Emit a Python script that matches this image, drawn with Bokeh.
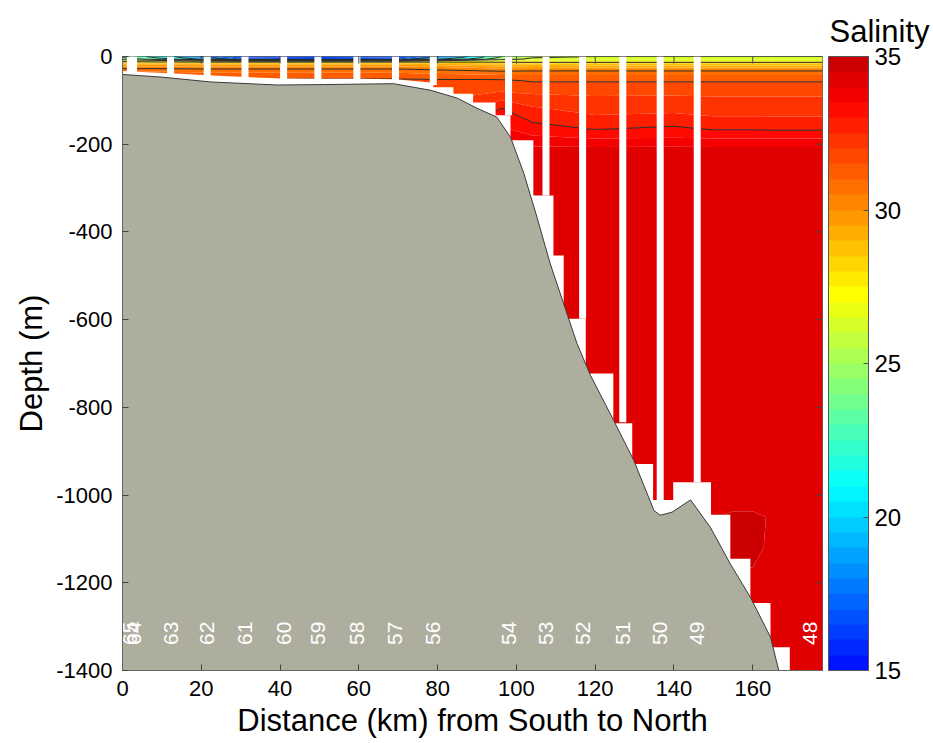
import numpy as np
from bokeh.plotting import figure
from bokeh.models import ColorBar, LinearColorMapper, FixedTicker, Title, Range1d
from bokeh.embed import file_html
from bokeh.resources import INLINE
from bokeh.core.properties import value

# ---------------- data ----------------
stations = ["65", "64", "63", "62", "61", "60", "59", "58", "57", "56",
            "54", "53", "52", "51", "50", "49", "48"]
station_km = [2.0, 2.8, 12.2, 21.5, 31.1, 40.9, 49.6, 59.5, 69.3, 78.9,
              98.0, 107.5, 116.8, 127.0, 136.5, 145.9, 174.6]
cast_depth = [-38, -38, -40, -45, -49, -52, -53, -53, -54, -65,
              -134, -317, -598, -834, -1028, -971, 0]

# salinity grid: columns at sal_x (km), rows at sal_depth (m)
sal_x = [0, 10, 20, 30, 50, 70, 80, 88, 96, 104, 120, 140, 150, 155, 160, 165, 177.7]
sal_depth = [0, 3, 6, 9, 13, 18, 25, 32, 42, 55, 80, 120, 165, 185, 210, 400,
             1030, 1050, 1120, 1200, 1400]
sal_profiles = [
    [23.5, 24.1, 25.1, 27.0, 28.5, 29.4, 30.25, 30.9, 31.4, 31.6, 32.0, 32.4, 33.0, 33.45, 34.1, 34.3, 34.3, 34.3, 34.3, 34.3, 34.3],
    [21.0, 21.6, 22.9, 26.0, 28.4, 29.4, 30.25, 30.9, 31.4, 31.6, 32.0, 32.4, 33.0, 33.45, 34.1, 34.3, 34.3, 34.3, 34.3, 34.3, 34.3],
    [17.9, 18.5, 19.75, 24.75, 28.25, 29.4, 30.25, 30.75, 31.25, 31.6, 32.0, 32.4, 33.0, 33.45, 34.1, 34.3, 34.3, 34.3, 34.3, 34.3, 34.3],
    [16.4, 16.6, 17.25, 24.1, 28.25, 29.4, 30.25, 30.75, 31.25, 31.6, 32.0, 32.4, 33.0, 33.45, 34.1, 34.3, 34.3, 34.3, 34.3, 34.3, 34.3],
    [16.1, 16.4, 17.0, 24.1, 28.25, 29.4, 30.25, 30.75, 31.25, 31.6, 32.0, 32.4, 33.0, 33.45, 34.1, 34.3, 34.3, 34.3, 34.3, 34.3, 34.3],
    [16.4, 16.6, 17.25, 24.4, 28.25, 29.4, 30.25, 30.75, 31.25, 31.6, 32.0, 32.4, 33.0, 33.45, 34.1, 34.3, 34.3, 34.3, 34.3, 34.3, 34.3],
    [17.9, 18.5, 19.75, 25.4, 28.25, 29.25, 30.1, 30.6, 31.1, 31.6, 32.0, 32.4, 33.0, 33.45, 34.1, 34.3, 34.3, 34.3, 34.3, 34.3, 34.3],
    [20.1, 20.75, 22.25, 26.6, 28.1, 29.1, 30.0, 30.5, 31.1, 31.6, 31.9, 32.3, 33.0, 33.45, 34.1, 34.3, 34.3, 34.3, 34.3, 34.3, 34.3],
    [23.9, 24.4, 25.4, 26.9, 28.0, 29.0, 29.75, 30.4, 31.0, 31.6, 32.0, 33.05, 33.6, 33.9, 34.2, 34.3, 34.3, 34.3, 34.3, 34.3, 34.3],
    [25.75, 26.0, 26.25, 26.75, 27.95, 28.9, 29.6, 30.45, 31.0, 31.45, 31.9, 32.6, 33.2, 33.6, 34.1, 34.3, 34.3, 34.3, 34.3, 34.3, 34.3],
    [26.0, 26.1, 26.4, 26.6, 27.95, 28.75, 29.5, 30.45, 31.0, 31.45, 31.9, 32.3, 32.97, 33.45, 34.1, 34.3, 34.3, 34.3, 34.3, 34.3, 34.3],
    [26.0, 26.1, 26.4, 26.6, 27.95, 28.75, 29.5, 30.45, 31.0, 31.45, 31.9, 32.35, 33.1, 33.5, 34.1, 34.3, 34.3, 34.3, 34.3, 34.3, 34.3],
    [26.0, 26.1, 26.4, 26.6, 27.95, 28.75, 29.5, 30.45, 31.0, 31.45, 31.9, 32.25, 32.95, 33.45, 34.1, 34.3, 34.3, 34.3, 34.3, 34.3, 34.3],
    [26.0, 26.1, 26.4, 26.6, 27.95, 28.75, 29.5, 30.45, 31.0, 31.45, 31.9, 32.25, 32.95, 33.45, 34.1, 34.3, 34.3, 34.9, 34.9, 34.3, 34.3],
    [26.0, 26.1, 26.4, 26.6, 27.95, 28.75, 29.5, 30.45, 31.0, 31.45, 31.9, 32.25, 32.95, 33.45, 34.1, 34.3, 34.3, 34.9, 34.75, 34.3, 34.3],
    [26.0, 26.1, 26.4, 26.6, 27.95, 28.75, 29.5, 30.45, 31.0, 31.45, 31.9, 32.25, 32.92, 33.45, 34.1, 34.3, 34.3, 34.3, 34.3, 34.3, 34.3],
    [26.0, 26.1, 26.4, 26.6, 27.95, 28.75, 29.5, 30.45, 31.0, 31.45, 31.9, 32.25, 32.92, 33.45, 34.1, 34.3, 34.3, 34.3, 34.3, 34.3, 34.3],
]
line_levels = [18, 20, 22, 24, 26, 28, 30.5, 31.5, 33]

# lower limit of the gridded data (white gap above the sea floor)
data_bottom_x = [0, 2.0, 12.2, 21.5, 31.1, 40.9, 49.6, 59.5, 69.3, 78.9, 78.9, 84, 84, 89, 89,
                 94.7, 94.7, 98.5, 98.5, 104.3, 104.3, 109.4, 109.4, 112, 112, 117.6, 117.6,
                 124.6, 124.6, 129.4, 129.4, 134.7, 134.7, 139.8, 139.8, 149.4, 149.4,
                 154.3, 154.3, 159.4, 159.4, 164.5, 164.5, 169.4, 169.4, 177.7]
data_bottom_z = [-33, -34, -38, -43, -47, -50, -51, -51, -52, -60, -70, -70, -85, -85, -105,
                 -105, -134, -134, -191, -191, -317, -317, -454, -454, -598, -598, -723,
                 -723, -836, -836, -929, -929, -1011, -1011, -971, -971, -1045, -1045,
                 -1145, -1145, -1246, -1246, -1347, -1347, -1400, -1400]

# sea floor
bathy_x = [0, 10, 22.3, 39.3, 51, 68.8, 78.2, 85, 90, 95, 98.5, 101.9, 105.2, 108.6, 112,
           115.4, 118.8, 124.7, 129.8, 134.9, 136.5, 139.5, 144.2, 149.2, 154.3, 159.4,
           164.5, 166.6]
bathy_z = [-41, -47, -58, -65, -64, -62, -77, -95, -118, -138, -184, -267, -366, -473, -564,
           -655, -727, -830, -921, -1035, -1046, -1039, -1011, -1073, -1157, -1233,
           -1324, -1400]

x_ticks = [0, 20, 40, 60, 80, 100, 120, 140, 160]
y_ticks = [0, -200, -400, -600, -800, -1000, -1200, -1400]
cbar_ticks = [15, 20, 25, 30, 35]
sal_low, sal_high, sal_step = 15, 35, 0.5

# ---------------- style ----------------
FONT = "Liberation Sans"
X_MAX = 177.7
Y_MIN = -1400
LABEL_DEPTH = -1315


def jet(v):
    r = min(max(1.5 - abs(4 * v - 3), 0), 1)
    g = min(max(1.5 - abs(4 * v - 2), 0), 1)
    b = min(max(1.5 - abs(4 * v - 1), 0), 1)
    return "#%02x%02x%02x" % (round(r * 255), round(g * 255), round(b * 255))


nb = int(round((sal_high - sal_low) / sal_step))
levels = [sal_low + i * sal_step for i in range(nb + 1)]
palette = [jet(0.135 + 0.8 * (i + 0.5) / nb) for i in range(nb)]

p = figure(frame_width=700, frame_height=614,
           x_range=Range1d(0, X_MAX), y_range=Range1d(Y_MIN, 0),
           output_backend="svg", toolbar_location=None,
           min_border_left=122, min_border_right=111, min_border_top=56, min_border_bottom=70)
p.background_fill_color = "white"
p.grid.visible = False
p.outline_line_color = "#666666"

xs = np.array(sal_x, dtype=float)
ys = -np.array(sal_depth, dtype=float)[::-1]
Z = np.array(sal_profiles, dtype=float).T[::-1, :]

p.contour(xs, ys, Z, levels=levels, fill_color=palette, line_color=None)
p.contour(xs, ys, Z, levels=line_levels, fill_color=None, line_color="#2b2b2b", line_width=1)

# white area below data coverage
p.patch(data_bottom_x + [X_MAX, 0], data_bottom_z + [Y_MIN, Y_MIN],
        fill_color="white", line_color=None)
# sea floor
p.patch(bathy_x + [0], bathy_z + [Y_MIN], fill_color="#aeae9f", line_color=None)
p.line(bathy_x, bathy_z, line_color="#3a3a3a", line_width=1)

# station casts
p.segment(x0=station_km, y0=[0] * len(station_km), x1=station_km, y1=cast_depth,
          line_color="white", line_width=7, line_cap="butt")
p.text(x=station_km, y=[LABEL_DEPTH] * len(station_km), text=stations, angle=np.pi / 2,
       text_color="white", text_font_size="21px", text_align="center",
       text_baseline="middle", text_font=value(FONT))

# inward ticks on the top and right edges (box axes)
p.scatter(x=x_ticks, y=[0] * len(x_ticks), marker="dash", angle=np.pi / 2, size=14,
          line_color="#444444", line_width=1)
p.scatter(x=[X_MAX] * len(y_ticks), y=y_ticks, marker="dash", size=14,
          line_color="#444444", line_width=1)

# axes
for ax in (p.xaxis[0], p.yaxis[0]):
    ax.major_label_text_font = FONT
    ax.major_label_text_font_size = "22px"
    ax.major_label_text_color = "black"
    ax.axis_label_text_font = FONT
    ax.axis_label_text_font_size = "31px"
    ax.axis_label_text_font_style = "normal"
    ax.axis_label_text_color = "black"
    ax.major_tick_in = 6
    ax.major_tick_out = 0
    ax.minor_tick_line_color = None
    ax.axis_line_color = "#666666"
    ax.major_tick_line_color = "#444444"
    ax.axis_label_standoff = 4

p.xaxis.major_label_standoff = 10
p.yaxis.major_label_standoff = 10
p.xaxis.ticker = FixedTicker(ticks=x_ticks)
p.yaxis.ticker = FixedTicker(ticks=y_ticks)
p.yaxis.major_label_overrides = {t: str(t) for t in y_ticks}
p.xaxis.axis_label = "Distance (km) from South to North"
p.yaxis.axis_label = "Depth (m)"

mapper = LinearColorMapper(palette=palette, low=sal_low, high=sal_high)
cb = ColorBar(color_mapper=mapper, ticker=FixedTicker(ticks=cbar_ticks),
              width=40, location=(6, 0), padding=0, margin=0,
              major_label_text_font=FONT, major_label_text_font_size="24px",
              major_label_text_color="black", label_standoff=6,
              bar_line_color="#555555", major_tick_line_color="#555555",
              major_tick_in=5, major_tick_out=0, minor_tick_line_color=None,
              background_fill_color=None, border_line_color=None)
p.add_layout(cb, "right")

p.add_layout(Title(text="Salinity", align="right", offset=-107, standoff=16,
                   text_font=FONT, text_font_size="31px", text_font_style="normal",
                   text_color="black"), "above")

open("out.html", "w").write(file_html(p, INLINE))
